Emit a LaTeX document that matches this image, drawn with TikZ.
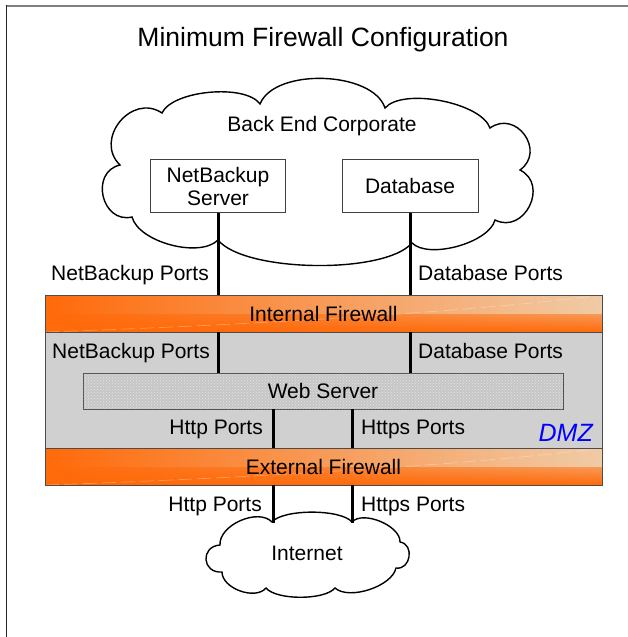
\documentclass[tikz,border=0pt]{standalone}
\usepackage{fontspec}
\setmainfont{Liberation Sans}
\usetikzlibrary{fadings,patterns,calc}
\definecolor{fwdark}{HTML}{FF6A0A}
\definecolor{fwlight}{HTML}{F0CBA6}
\definecolor{dmzgray}{HTML}{D0D0D0}
\definecolor{webgray}{HTML}{C6C6C6}
\definecolor{framegray}{HTML}{7F7F7F}
\begin{document}
\begin{tikzpicture}[x=1pt,y=-1pt,
  lbl/.style={inner sep=0pt, font=\fontsize{21}{24}\selectfont, text height=15pt, text depth=0pt},
  fwall/.style={draw=black!70, line width=0.8pt, minimum width=557pt, minimum height=37pt, inner sep=0pt,
    left color=fwdark, right color=fwlight, font=\fontsize{21}{24}\selectfont, text height=15pt, text depth=0pt,
    path picture={\fill[fwdark, path fading=north] (path picture bounding box.west) rectangle (path picture bounding box.south east);
      \draw[white, opacity=0.3, line width=0.7pt, dash pattern=on 14pt off 5pt]
        (path picture bounding box.south west) .. controls ($(path picture bounding box.south west)!0.4!(path picture bounding box.east)$) and ($(path picture bounding box.south)!0.6!(path picture bounding box.north east)$) .. (path picture bounding box.north east);}},
  srvbox/.style={draw=black!75, line width=0.8pt, fill=white, minimum width=135pt, minimum height=53pt, inner sep=0pt,
    align=center, font=\fontsize{21}{23}\selectfont},
  conn/.style={line width=3pt, black},
  cloudline/.style={draw=black, line width=1.4pt, fill=white}]
\useasboundingbox (0,0) rectangle (628,637);
\fill[white] (0,0) rectangle (628,637);
% frame
\draw[framegray, line width=1.8pt] (5.6,5.8) -- (628,5.8);
\draw[black!85, line width=1.6pt] (6.4,5) -- (6.4,637);
% title
\node[lbl, font=\fontsize{26.5}{30}\selectfont, text height=19pt] (title) at (323,37) {Minimum Firewall Configuration};
% back end cloud
\path[cloudline] (120,165) to[bend left=85,looseness=1.4] (162,113)
  to[bend left=60,looseness=0.65] (260,104)
  to[bend left=70,looseness=0.8] (385,108)
  to[bend left=60,looseness=0.65] (490,128)
  to[bend left=90,looseness=1.6] (520,170)
  to[bend left=90,looseness=1.5] (495,220)
  to[bend left=60,looseness=0.7] (412,243)
  to[bend left=50,looseness=0.55] (218,240)
  to[bend left=60,looseness=0.75] (132,217)
  to[bend left=90,looseness=1.5] (120,165) -- cycle;
\node[lbl] (bec) at (322,124) {Back End Corporate};
\node[srvbox] (nbs) at (218,186) {NetBackup\\Server};
\node[srvbox, minimum width=136pt] (db) at (410,186) {Database};
% DMZ
\node[draw=black!70, line width=0.8pt, fill=dmzgray, minimum width=557pt, minimum height=116pt, inner sep=0pt] (dmz) at (323.5,390) {};
\node[fwall] (ifw) at (323.5,313.5) {Internal Firewall};
\node[fwall] (efw) at (323.5,466.5) {External Firewall};
\node[draw=black!70, line width=0.8pt, fill=webgray, postaction={pattern=crosshatch dots, pattern color=black!10},
  minimum width=480pt, minimum height=36pt, inner sep=0pt, font=\fontsize{21}{24}\selectfont, text height=15pt, text depth=0pt] (web) at (323,391) {Web Server};
% internet cloud
\path[cloudline] (220,545) to[bend left=70,looseness=0.9] (272,522)
  to[bend left=50,looseness=0.55] (352,522)
  to[bend left=70,looseness=0.8] (400,542)
  to[bend left=90,looseness=1.45] (396,568)
  to[bend left=60,looseness=0.75] (335,588)
  to[bend left=50,looseness=0.6] (266,588)
  to[bend left=70,looseness=0.9] (222,572)
  to[bend left=90,looseness=1.9] (220,545) -- cycle;
\node[lbl] (inet) at (307,553) {Internet};
% connectors
\coordinate (hx) at (273,0);
\coordinate (sx) at (352,0);
\coordinate (ih) at (273,523);
\coordinate (is) at (352,523);
\draw[conn] (nbs.south) -- (nbs.south |- ifw.north);
\draw[conn] (db.south) -- (db.south |- ifw.north);
\draw[conn] (ifw.south -| nbs.south) -- (web.north -| nbs.south);
\draw[conn] (ifw.south -| db.south) -- (web.north -| db.south);
\draw[conn] (web.south -| hx) -- (efw.north -| hx);
\draw[conn] (web.south -| sx) -- (efw.north -| sx);
\draw[conn] (efw.south -| ih) -- (ih);
\draw[conn] (efw.south -| is) -- (is);
% labels
\node[lbl, anchor=east] (nbp1) at (209,273) {NetBackup Ports};
\node[lbl, anchor=west] (dbp1) at (418,273) {Database Ports};
\node[lbl, anchor=east] (nbp2) at (210,351) {NetBackup Ports};
\node[lbl, anchor=west] (dbp2) at (418,351) {Database Ports};
\node[lbl, anchor=east] (hp1) at (263,427) {Http Ports};
\node[lbl, anchor=west] (sp1) at (361,427) {Https Ports};
\node[lbl, anchor=east] (hp2) at (262,504) {Http Ports};
\node[lbl, anchor=west] (sp2) at (361,504) {Https Ports};
\node[lbl, anchor=east, text=blue, font=\fontsize{25}{28}\selectfont\itshape, text height=18pt] (dmzl) at (593,432) {DMZ};
\end{tikzpicture}
\end{document}
